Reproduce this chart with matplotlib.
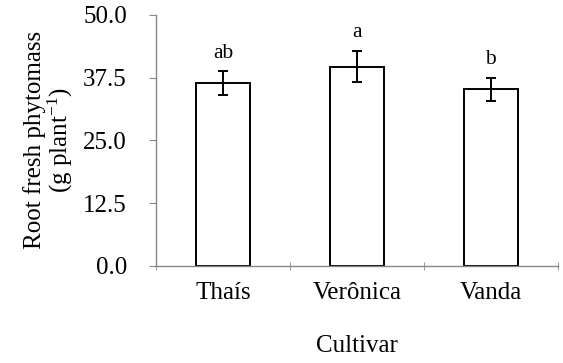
import numpy as np
import matplotlib
matplotlib.use('Agg')
import matplotlib.pyplot as plt

plt.rcParams['font.family'] = ['Liberation Serif', 'DejaVu Serif']
plt.rcParams['mathtext.fontset'] = 'custom'
plt.rcParams['mathtext.rm'] = 'Liberation Serif'
plt.rcParams['mathtext.it'] = 'Liberation Serif:italic'

cultivars = ['Thaís', 'Verônica', 'Vanda']
means = [36.4, 39.7, 35.2]
errors = [2.35, 3.1, 2.3]
letters = ['ab', 'a', 'b']
yticks = [0.0, 12.5, 25.0, 37.5, 50.0]

AXIS_GRAY = '#868686'
FS = 18

fig = plt.figure(figsize=(5.63, 3.63), dpi=100)
ax = fig.add_axes([0.277, 0.268, 0.714, 0.691])

x = np.arange(len(cultivars))
ax.bar(x, means, width=0.4, color='white', edgecolor='black', linewidth=1.4, zorder=2)
ax.errorbar(x, means, yerr=errors, fmt='none', ecolor='black', elinewidth=1.4,
            capsize=3.6, capthick=1.4, zorder=3)

for xi, m, e, lab in zip(x, means, errors, letters):
    ax.text(xi, m + e + 2.7, lab, ha='center', va='baseline', fontsize=15.5)

ax.set_xlim(-0.5, len(cultivars) - 0.5)
ax.set_ylim(0, 50)
ax.set_yticks(yticks)
ax.set_yticklabels(['%.1f' % v for v in yticks], fontsize=FS)

ax.set_xticks(x)
ax.set_xticklabels(cultivars, fontsize=FS)
ax.tick_params(axis='x', length=0, pad=12)
# boundary ticks between categories
ax.set_xticks(np.arange(-0.5, len(cultivars)), minor=True)
ax.tick_params(axis='x', which='minor', length=6, direction='inout', color=AXIS_GRAY)
ax.tick_params(axis='y', length=5, direction='out', color=AXIS_GRAY, pad=16)

for side in ['top', 'right']:
    ax.spines[side].set_visible(False)
for side in ['left', 'bottom']:
    ax.spines[side].set_color(AXIS_GRAY)
    ax.spines[side].set_linewidth(1.0)

ax.set_ylabel('Root fresh phytomass\n(g plant$^{-1}$)', fontsize=FS, labelpad=6,
              linespacing=1.0)
ax.set_xlabel('Cultivar', fontsize=FS, labelpad=22)

fig.savefig('out.png', dpi=100)
